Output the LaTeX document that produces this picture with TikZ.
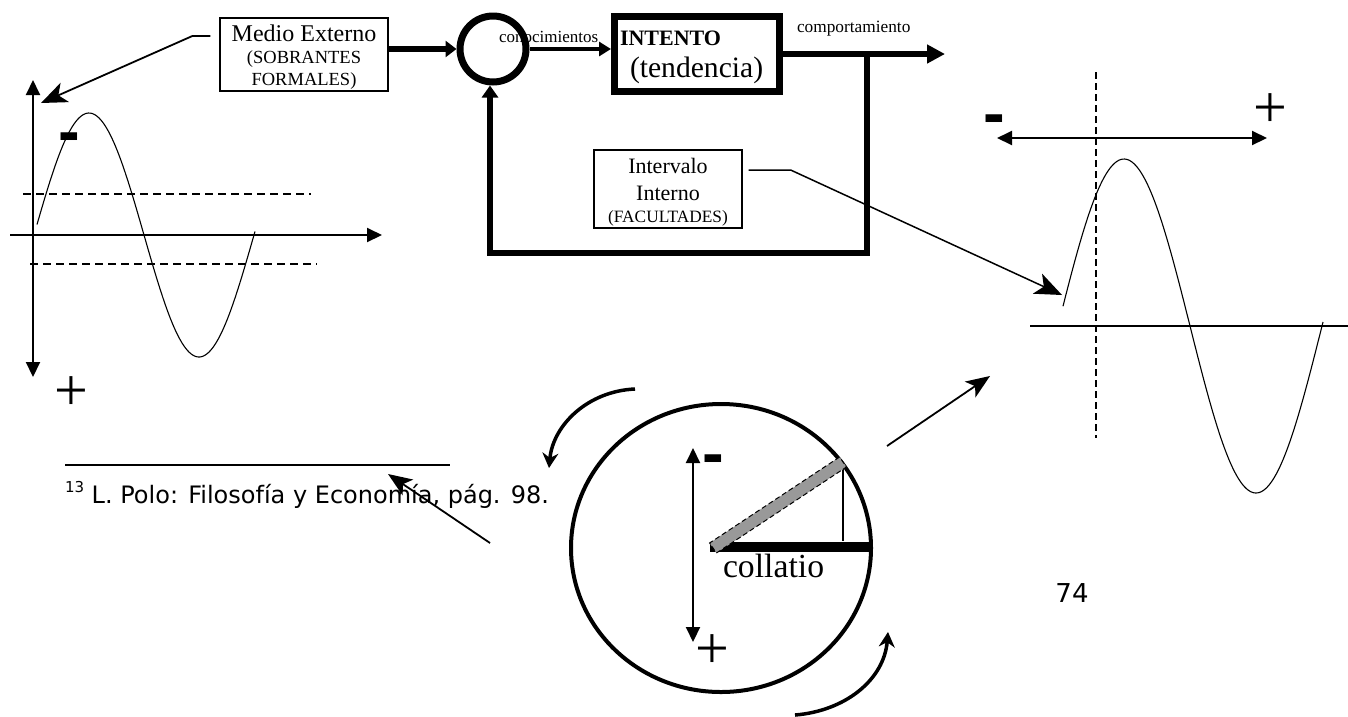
\documentclass[tikz,border=0pt]{standalone}
\usepackage{fontspec}
\setmainfont{Liberation Serif}
\newfontfamily\sansf{DejaVu Sans}
\newfontfamily\arialf{Liberation Sans}
\usetikzlibrary{arrows.meta}
\newcommand\myfs[1]{\fontsize{#1}{#1}\selectfont}
\tikzset{tri/.tip={Triangle[length=15pt,width=14pt]}}
\begin{document}
\begin{tikzpicture}[x=1pt,y=-1pt,
  txt/.style={inner sep=0, outer sep=0, anchor=base},
  txtw/.style={inner sep=0, outer sep=0, anchor=base west},
  thinbox/.style={draw, line width=1.3pt, inner sep=0, rectangle},
  signm/.style={txt, font={\arialf\bfseries\myfs{65}}},
  signp/.style={txt, font={\myfs{60}}},
  axis/.style={line width=2pt},
  dashline/.style={line width=1.3pt, dash pattern=on 8pt off 5pt},
  wave/.style={line width=1.1pt, smooth},
  pointer/.style={line width=1.8pt, -{Stealth[length=26pt,width=21pt,inset=7pt]}},
  flow/.style={line width=6.5pt},
]
\useasboundingbox (0,0) rectangle (1348,716);

% ---------- left graph ----------
\draw[axis, tri-tri] (33,80) -- (33,377);
\draw[axis, -tri] (10,235) -- (382,235);
\draw[dashline] (23,194) -- (311,194);
\draw[dashline] (30,264) -- (317,264);
\draw[wave, domain=37:255, samples=120] plot (\x, {235 - 122*sin(1.636364*(\x-34))});
\node[signm] (lminus) at (69,153) {-};
\node[signp] (lplus) at (71,410) {+};

% ---------- block diagram ----------
\node[thinbox, minimum width=168pt, minimum height=73pt] (medio) at (304,54.5) {};
\node[txt, font=\myfs{24}] (medio1) at (304,41) {Medio Externo};
\node[txt, font=\myfs{18.5}] (medio2) at (304,63) {(SOBRANTES};
\node[txt, font=\myfs{18.5}] (medio3) at (304,85) {FORMALES)};

\node[txtw, font=\myfs{17}] (conoc) at (499,42) {conocimientos};
\node[circle, draw, line width=7pt, minimum size=66pt, inner sep=0] (sum) at (493,49) {};

\node[rectangle, draw, line width=7pt, minimum width=165pt, minimum height=75pt, inner sep=0] (intento) at (697,54) {};
\node[txtw, font={\bfseries\myfs{22}}] (intento1) at (620,45) {INTENTO};
\node[txtw, font=\myfs{29.6}] (intento2) at (630,77) {(tendencia)};

\node[txtw, font=\myfs{17.3}] (comport) at (797,32) {comportamiento};

\node[thinbox, minimum width=148pt, minimum height=78pt] (intervalo) at (668,189) {};
\node[txt, font=\myfs{22}] (interv1) at (668,173) {Intervalo};
\node[txt, font=\myfs{22}] (interv2) at (668,200) {Interno};
\node[txt, font=\myfs{17.3}] (interv3) at (668,222) {(FACULTADES)};

\coordinate (out) at (945,54);
\coordinate (fb) at (867,54);
\coordinate (fbcorner) at (867,253);
\coordinate (fbleft) at (490,253);

\draw[flow, -{Triangle[length=11pt,width=16pt]}] (medio.east |- sum.west) -- (sum.west);
\draw[line width=4pt, -{Triangle[length=12pt,width=14pt]}] (sum.east) -- (sum.east -| intento.west);
\draw[flow, -{Triangle[length=18pt,width=18pt]}] (intento.east) -- (out);
\draw[flow, -{Triangle[length=12pt,width=16pt]}] (fb) -- (fbcorner) -- (fbleft) -- (fbleft |- sum.south);

% pointer from Medio Externo to left graph
\coordinate (ltarget) at (41,103);
\draw[pointer] ([xshift=-9pt,yshift=18.5pt]medio.west) -- ++(-18,0) -- (ltarget);

% pointer from Intervalo Interno to right graph
\coordinate (rtarget) at (1062,295);
\draw[line width=1.5pt, -{Stealth[length=27pt,width=22pt,inset=7pt]}] ([xshift=6pt,yshift=19pt]intervalo.east) -- ++(42,0) -- (rtarget);

% ---------- right graph ----------
\draw[axis, tri-tri] (997,138) -- (1267,138);
\draw[line width=1.8pt] (1030,326) -- (1348,326);
\draw[line width=1.4pt, dash pattern=on 7pt off 4pt] (1096,72) -- (1096,438);
\draw[wave, domain=1063:1323, samples=140] plot (\x, {326 - 167*sin(1.363636*(\x-1058))});
\node[signm] (rminus) at (994,135) {-};
\node[signp] (rplus) at (1270,127) {+};

% ---------- footnote ----------
\draw[line width=1.5pt] (65,465) -- (450,465);
\node[txtw, font={\sansf\myfs{24}}] (foot) at (65,503) {\raisebox{0.42em}{\myfs{15}13} L. Polo: Filosofía y Economía, pág. 98.};
\node[txt, font={\sansf\myfs{26}}] (page) at (1072,602) {74};

% ---------- collatio circle ----------
\draw[line width=4pt] (721,548) ellipse [x radius=150, y radius=144];
\draw[axis, tri-tri] (693,448) -- (693,642);
\node[signm] (cminus) at (713,475) {-};
\node[signp] (cplus) at (712,668) {+};
\draw[line width=10pt] (710,547) -- (870,547);
\draw[line width=1.3pt] (843,463) -- (843,541);
\filldraw[fill=black!40, draw=black, line width=1pt, dash pattern=on 5pt off 3pt]
  (716.4,553.0) -- (846.4,467.0) -- (839.6,457.0) -- (709.6,543.0) -- cycle;
\node[txtw, font=\myfs{33.7}] (collatio) at (723,577) {collatio};

% rotation arrows
\draw[line width=3.5pt, -{Stealth[length=15pt,width=16pt]}] (635,389) .. controls (588,391) and (553,425) .. (549,468);
\draw[line width=3.5pt, -{Stealth[length=15pt,width=16pt]}] (795,715) .. controls (845,711) and (884,680) .. (888,632);

% outgoing arrows
\draw[line width=1.8pt, -{Stealth[length=24pt,width=19pt,inset=6pt]}] (490,543) -- (388,474);
\draw[line width=1.8pt, -{Stealth[length=24pt,width=19pt,inset=6pt]}] (887,446) -- (990,376);
\end{tikzpicture}
\end{document}
